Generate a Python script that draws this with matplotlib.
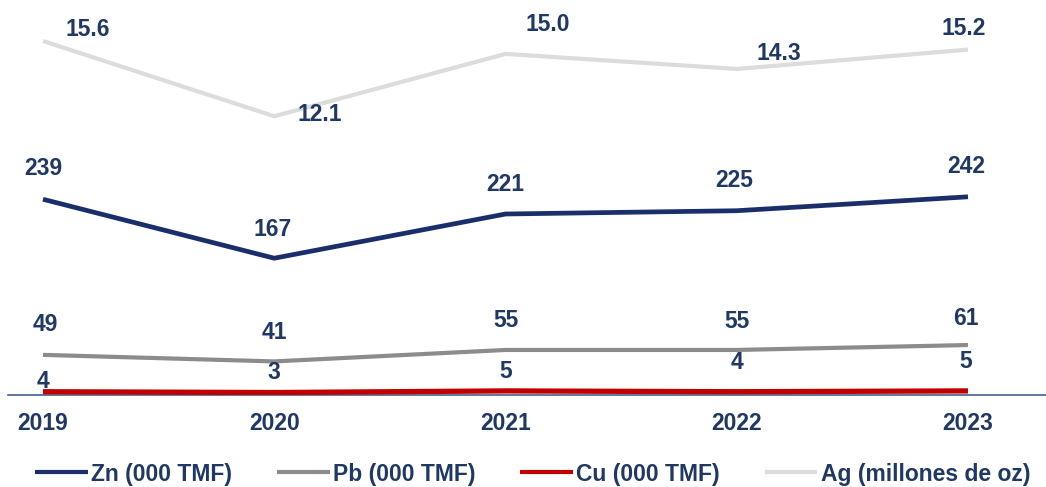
import matplotlib
matplotlib.use("Agg")
import matplotlib.pyplot as plt

years = ["2019", "2020", "2021", "2022", "2023"]
zn = [239, 167, 221, 225, 242]
pb = [49, 41, 55, 55, 61]
cu = [4, 3, 5, 4, 5]
ag = [15.6, 12.1, 15.0, 14.3, 15.2]
series_names = ["Zn (000 TMF)", "Pb (000 TMF)", "Cu (000 TMF)", "Ag (millones de oz)"]

TXT = "#1F3864"
C_ZN = "#1A2E6B"
C_PB = "#8C8C8C"
C_CU = "#C00000"
C_AG = "#DCDCDC"

plt.rcParams['font.family'] = ['Liberation Sans', 'DejaVu Sans']

W, H = 1046, 487
fig = plt.figure(figsize=(W / 100, H / 100), dpi=100)
ax = fig.add_axes([8 / W, (H - 395) / H, 1038 / W, 395 / H])
ax2 = ax.twinx()

x = list(range(len(years)))
ax.set_xlim((8 - 43) / 231.25, (1046 - 43) / 231.25)
ax.set_ylim(0, 395 / 0.819)
ax2.set_ylim(-(395 - 376.4) / 21.5, 376.4 / 21.5)

l_zn, = ax.plot(x, zn, color=C_ZN, lw=3.4, solid_capstyle='butt', zorder=4)
l_pb, = ax.plot(x, pb, color=C_PB, lw=3.0, solid_capstyle='butt', zorder=3)
l_cu, = ax.plot(x, cu, color=C_CU, lw=3.8, solid_capstyle='butt', zorder=5)
l_ag, = ax2.plot(x, ag, color=C_AG, lw=3.0, solid_capstyle='butt', zorder=2)

for a in (ax, ax2):
    for s in a.spines.values():
        s.set_visible(False)
    a.set_yticks([])
    a.patch.set_visible(False)
ax.spines['bottom'].set_visible(True)
ax.spines['bottom'].set_color('#44618F')
ax.spines['bottom'].set_linewidth(1.2)
ax.spines['bottom'].set_zorder(1)

ax.set_xticks(x)
ax.set_xticklabels(years, fontsize=16.5, fontweight='bold', color=TXT)
ax.tick_params(axis='x', length=0, pad=12.5)

lab_kw = dict(textcoords='offset pixels', ha='center', va='center',
              fontsize=16.5, fontweight='bold', color=TXT, zorder=6)

ag_off = [(45, 11), (46, 2), (42, 29), (42, 15), (-4, 21)]
zn_off = [(0, 31), (-2, 29), (0, 30), (-3, 30), (-2, 30)]
pb_off = [(2, 30), (0, 29), (0, 29), (0, 28), (-2, 27)]
cu_off = [(0, 10), (0, 20), (0, 19), (0, 29), (-2, 29)]

for i in x:
    ax2.annotate(f"{ag[i]:.1f}", (i, ag[i]), xytext=ag_off[i], **lab_kw)
    ax.annotate(f"{zn[i]}", (i, zn[i]), xytext=zn_off[i], **lab_kw)
    ax.annotate(f"{pb[i]}", (i, pb[i]), xytext=pb_off[i], **lab_kw)
    ax.annotate(f"{cu[i]}", (i, cu[i]), xytext=cu_off[i], **lab_kw)

leg = fig.legend([l_zn, l_pb, l_cu, l_ag], series_names,
                 loc='center left', bbox_to_anchor=(35 / W, 1 - 474 / H),
                 ncol=4, frameon=False, borderpad=0, borderaxespad=0,
                 handlelength=2.3, handletextpad=0.15, columnspacing=1.95,
                 prop={'size': 16.5, 'weight': 'bold'})
for t in leg.get_texts():
    t.set_color(TXT)
for h in leg.legend_handles:
    h.set_linewidth(3.0)

fig.savefig("out.png", dpi=100)
